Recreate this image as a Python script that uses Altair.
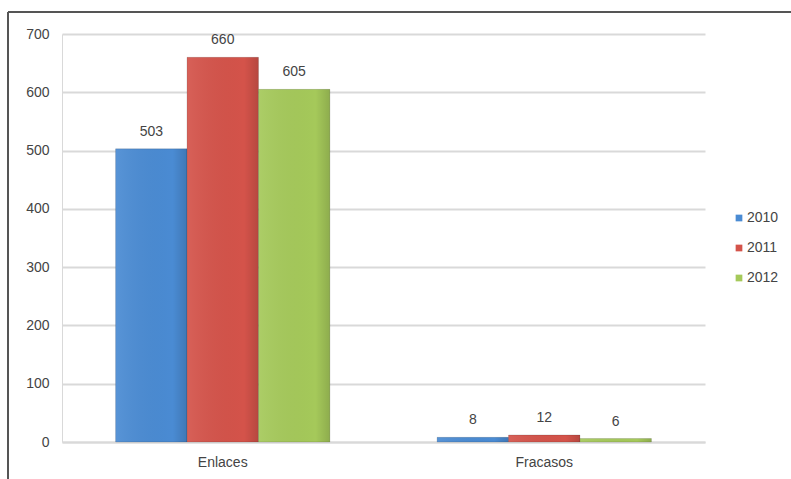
import altair as alt
import pandas as pd

# Data
categories = ["Enlaces", "Fracasos"]
years = ["2010", "2011", "2012"]
enlaces = [503, 660, 605]
fracasos = [8, 12, 6]
colors = ["#4a8bd3", "#d4534a", "#a5c95a"]

rows = []
for cat, vals in zip(categories, [enlaces, fracasos]):
    for yr, v in zip(years, vals):
        rows.append({"categoria": cat, "anio": yr, "valor": v})
df = pd.DataFrame(rows)

FONT = "Liberation Sans"
FS = 14
TXT = "#444444"
GRID = "#d9d9d9"

x_enc = alt.X(
    "categoria:N",
    sort=categories,
    title=None,
    scale=alt.Scale(paddingInner=1 / 3, paddingOuter=1 / 6),
    axis=alt.Axis(
        labelAngle=0, ticks=False, domain=True, domainColor=GRID, domainWidth=2,
        labelFont=FONT, labelFontSize=FS, labelColor=TXT, labelPadding=13,
    ),
)
y_enc = alt.Y(
    "valor:Q",
    title=None,
    scale=alt.Scale(domain=[0, 700], nice=False),
    axis=alt.Axis(
        values=[0, 100, 200, 300, 400, 500, 600, 700], ticks=False,
        domain=True, domainColor=GRID, domainWidth=1,
        grid=True, gridColor=GRID, gridWidth=2,
        labelFont=FONT, labelFontSize=FS, labelColor=TXT, labelPadding=13,
    ),
)
xoff = alt.XOffset("anio:N", sort=years, scale=alt.Scale(paddingInner=0, paddingOuter=0))

bars = alt.Chart(df).mark_bar(stroke="#00000022", strokeWidth=1).encode(
    x=x_enc,
    xOffset=xoff,
    y=y_enc,
    color=alt.Color(
        "anio:N",
        sort=years,
        scale=alt.Scale(domain=years, range=colors),
        legend=alt.Legend(
            title=None, orient="none", legendX=670, legendY=177,
            symbolType="square", symbolSize=45, symbolStrokeWidth=0,
            labelFont=FONT, labelFontSize=FS, labelColor=TXT,
            rowPadding=16, labelOffset=1,
        ),
    ),
)

# Soft shading across each bar: lighter left edge, darker right edge
shade = alt.Chart(df).mark_bar(
    color=alt.Gradient(
        gradient="linear", x1=0, x2=1, y1=0, y2=0,
        stops=[
            alt.GradientStop(offset=0, color="rgba(255,255,255,0.08)"),
            alt.GradientStop(offset=0.8, color="rgba(0,0,0,0)"),
            alt.GradientStop(offset=1, color="rgba(0,0,0,0.14)"),
        ],
    )
).encode(
    x=alt.X("categoria:N", sort=categories),
    xOffset=xoff,
    y="valor:Q",
)

labels = alt.Chart(df).mark_text(
    baseline="bottom", dy=-10, font=FONT, fontSize=FS, color=TXT
).encode(
    x=alt.X("categoria:N", sort=categories),
    xOffset=xoff,
    y="valor:Q",
    text="valor:Q",
)

# Outer frame lines (top and left edges)
frame_top = alt.Chart().mark_rule(color="#555555", strokeWidth=2).encode(
    x=alt.value(-54), x2=alt.value(760), y=alt.value(-22)
)
frame_left = alt.Chart().mark_rule(color="#555555", strokeWidth=2).encode(
    x=alt.value(-54), y=alt.value(-22), y2=alt.value(460)
)

chart = (
    alt.layer(bars, shade, labels, frame_top, frame_left)
    .properties(
        width=643, height=408,
        padding={"left": 62, "top": 34, "right": 86, "bottom": 37},
        autosize=alt.AutoSizeParams(type="none"),
        background="white",
    )
    .configure_view(stroke=None)
)

chart.save("out.html", embed_options={"renderer": "svg", "actions": False})
